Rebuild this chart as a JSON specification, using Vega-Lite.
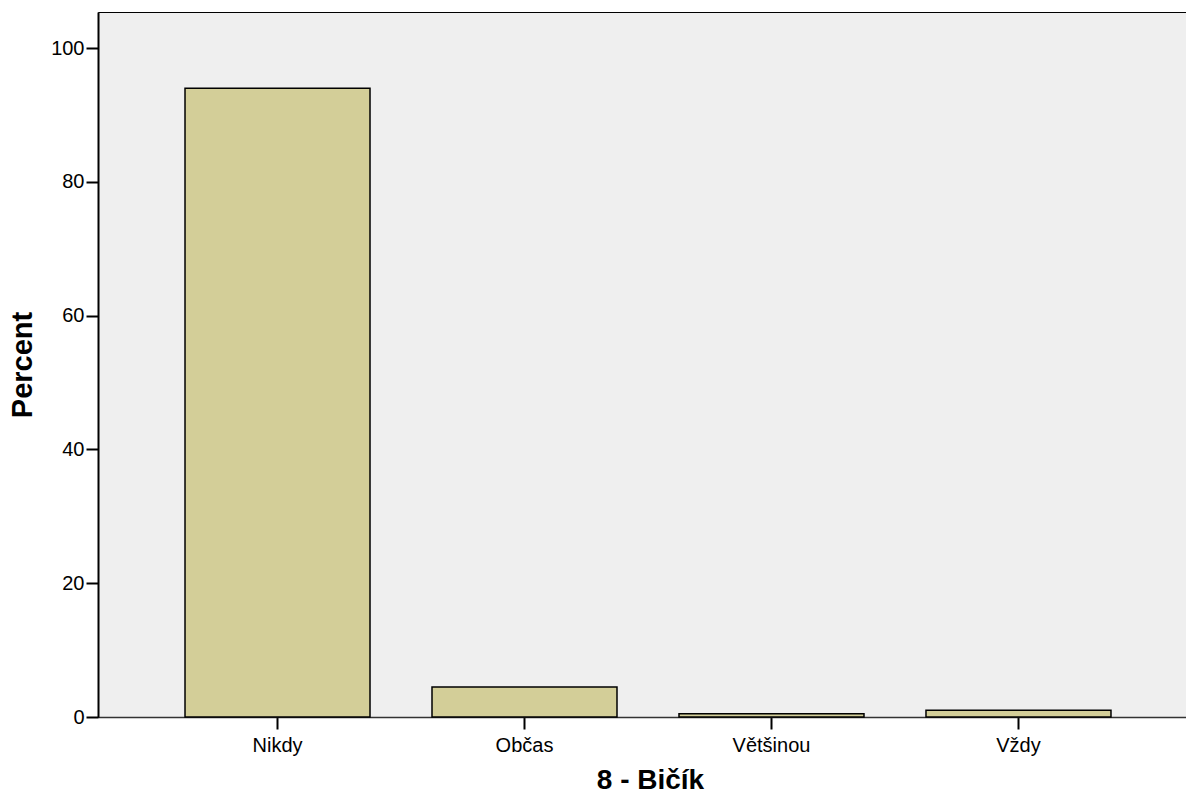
{
  "$schema": "https://vega.github.io/schema/vega-lite/v6.json",
  "width": 1088,
  "height": 705,
  "autosize": {"type": "none"},
  "padding": {"left": 98, "top": 12, "right": 0, "bottom": 85},
  "background": "white",
  "config": {
    "view": {"fill": "#EFEFEF", "stroke": "#000000", "strokeWidth": 1},
    "font": "Liberation Sans"
  },
  "data": {
    "values": [
      {"category": "Nikdy", "percent": 94.0},
      {"category": "Občas", "percent": 4.5},
      {"category": "Většinou", "percent": 0.5},
      {"category": "Vždy", "percent": 1.0}
    ]
  },
  "mark": {"type": "bar", "fill": "#D3CE98", "stroke": "#000000", "strokeWidth": 1.5},
  "encoding": {
    "x": {
      "field": "category",
      "type": "nominal",
      "sort": null,
      "scale": {"paddingInner": 0.251, "paddingOuter": 0.328, "align": 0.537},
      "axis": {
        "title": "8 - Bičík",
        "titleFont": "Liberation Sans",
        "titleFontSize": 28,
        "titleFontWeight": "bold",
        "titleColor": "#000000",
        "titlePadding": 11,
        "titleX": 552,
        "labelFont": "Liberation Sans",
        "labelFontSize": 20,
        "labelColor": "#000000",
        "labelAngle": 0,
        "labelPadding": 6,
        "tickSize": 12,
        "tickColor": "#000000",
        "tickWidth": 2,
        "domainColor": "#333333",
        "domainWidth": 1.5
      }
    },
    "y": {
      "field": "percent",
      "type": "quantitative",
      "scale": {"domain": [0, 105.4], "nice": false},
      "axis": {
        "title": "Percent",
        "values": [0, 20, 40, 60, 80, 100],
        "grid": false,
        "titleFont": "Liberation Sans",
        "titleFontSize": 29,
        "titleFontWeight": "bold",
        "titleColor": "#000000",
        "titlePadding": 13,
        "labelFont": "Liberation Sans",
        "labelFontSize": 20,
        "labelColor": "#000000",
        "labelPadding": 2,
        "tickSize": 12,
        "tickColor": "#000000",
        "tickWidth": 2,
        "domainColor": "#000000",
        "domainWidth": 2
      }
    }
  }
}
